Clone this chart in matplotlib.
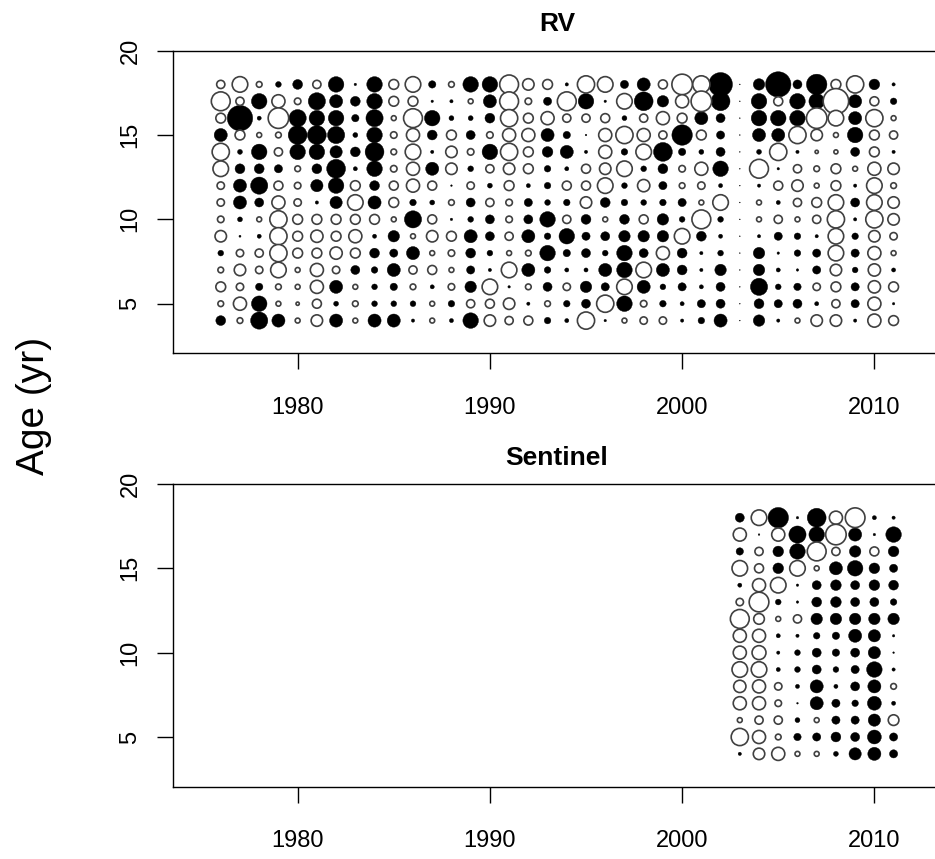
import numpy as np
import matplotlib.pyplot as plt

plt.rcParams['font.family'] = ['Liberation Sans', 'DejaVu Sans']

ages = [18, 17, 16, 15, 14, 13, 12, 11, 10, 9, 8, 7, 6, 5, 4]

# RV survey residuals, 1976-2011, one row per age (18 down to 4)
rv_years = list(range(1976, 2012))
rv_resid = [
    [-1.0, -1.9, -0.7, 0.7, 1.2, -1.0, 1.9, 0.3, 1.9, -1.2, -1.9, 0.9, -0.7, 1.9, 1.9, -2.3, -1.4, -1.2,
     0.4, -2.1, -1.9, 1.0, 1.6, -1.1, -2.5, -2.1, 2.9, 0.1, 1.4, 3.1, 1.1, 2.5, -1.2, -2.1, 1.3, 0.4],
    [-2.3, -1.0, 1.9, -1.6, -0.8, 2.1, 1.6, 1.2, 1.9, -1.2, -1.2, 0.3, 0.4, -0.6, 1.6, -2.3, -0.8, 1.0,
     -2.3, 1.9, 0.3, -1.9, 2.3, 1.4, -1.6, -2.5, 2.3, 0.1, 1.9, -1.1, 1.9, 1.9, -3.1, 1.6, -1.1, 0.8],
    [-1.2, 3.1, 0.5, -2.5, 2.1, 1.9, 1.9, 0.9, 2.1, -0.6, -2.3, 1.9, 0.6, 0.6, 1.2, -2.1, -1.2, -1.6,
     -1.0, -1.0, -1.1, 0.6, -1.0, -1.6, -1.2, 1.6, 1.1, 0.1, 1.9, 1.9, 1.9, -2.5, -1.9, 1.6, -2.1, -0.6],
    [1.6, -1.2, -0.6, -0.7, 2.3, 2.3, 2.1, 0.6, 1.9, -0.8, -1.6, 1.2, -1.2, 1.1, -0.8, -1.6, -1.6, 1.6,
     0.9, 0.2, -1.6, -2.1, -1.6, -1.0, 2.5, -1.2, 1.0, 0.1, 1.6, 1.6, -2.1, -1.4, -0.6, 1.9, -1.2, -1.0],
    [-2.1, 0.6, 1.9, -1.0, 1.9, 1.9, 1.5, 1.2, 2.3, -0.7, -1.9, 0.4, -1.4, -0.8, 1.9, -2.1, -1.2, 1.3,
     1.6, 0.4, -1.6, 0.8, -1.9, 2.3, 0.9, 0.6, 1.1, 0.1, 0.6, -2.1, 0.4, -0.4, -0.5, 1.1, -1.2, 0.4],
    [-1.9, 1.2, 1.2, 1.0, -0.7, 1.2, 2.3, 0.5, 1.9, -0.8, -1.6, 1.6, -1.4, 0.7, -1.0, -1.4, -1.2, 0.8,
     0.5, -1.1, -1.4, -1.9, 0.7, 1.2, -0.8, -1.6, 1.9, 0.1, -2.3, 0.3, -1.0, -0.7, -1.2, -0.6, -1.6, -1.4],
    [-0.9, 1.6, 2.1, -1.1, -0.8, 1.5, 1.9, -1.2, 1.2, -1.1, -1.6, -1.1, 0.2, -0.9, 0.6, -1.2, 0.5, 0.8,
     -1.1, -1.1, -1.9, 0.7, -1.5, 1.0, -0.7, -0.9, 0.5, 0.1, 0.4, -1.1, -1.4, -0.6, -1.2, 0.4, -1.9, -0.7],
    [-0.9, 1.6, 1.1, -1.6, -0.9, 0.4, 1.5, -1.9, 1.6, -1.2, 0.8, 0.6, -0.7, 1.1, -1.0, -0.8, 1.0, 0.7,
     0.8, -1.4, 1.2, 0.8, 0.7, 0.8, 1.0, -0.6, -1.9, 0.1, -0.6, 0.5, -1.0, -1.2, -1.9, 1.1, -1.9, -1.4],
    [-0.8, 0.6, -0.6, -2.1, -1.2, -1.2, -1.2, -1.2, -1.2, -0.6, 2.1, -1.1, 0.3, 0.7, 1.1, -0.8, 1.1, 1.9,
     -1.0, 1.2, -0.6, 1.2, -1.1, 1.4, 0.7, -2.3, 0.7, 0.1, -0.6, -1.0, -0.6, -1.0, -2.1, 0.4, -2.1, -1.4],
    [-1.4, 0.25, 0.5, -2.1, -1.2, -1.5, -1.2, -1.6, 0.5, 1.4, -0.6, -1.4, -1.2, 1.6, 1.1, -1.0, 1.6, 0.8,
     1.9, 1.0, 1.1, 1.4, 1.4, 1.4, -1.9, 1.2, 0.5, 0.1, 0.4, 1.0, 0.8, 0.4, -1.9, 0.8, -1.4, -0.9],
    [0.7, -0.9, -1.0, -2.1, -1.2, -1.2, -1.5, -1.2, 1.2, 1.0, 1.6, -0.6, -0.8, 1.2, 0.7, -0.6, -0.7, 1.9,
     0.9, 1.1, 0.7, 1.9, 1.1, -1.6, 1.2, 0.4, 0.7, 0.1, 1.4, 0.3, 0.8, 1.0, -1.9, 1.0, -1.6, -0.6],
    [-0.7, -1.4, -0.9, -1.9, -0.6, -1.6, -0.9, 1.1, 0.8, 1.6, -1.0, -1.1, -0.6, 1.0, 0.4, -1.9, 1.6, 0.8,
     0.5, 0.5, 1.6, 1.9, -1.9, 1.6, 1.2, 0.4, 1.4, 0.1, 1.4, 0.5, 0.3, 1.0, -1.4, 0.7, -1.5, 0.5],
    [-1.2, -0.9, 0.9, -0.7, -0.6, -1.6, 1.6, -0.6, 0.7, 0.9, -0.7, 0.5, -0.8, 1.4, -1.9, 0.3, -0.7, 1.1,
     -0.9, 1.4, 1.0, -1.9, 1.6, 0.7, 1.0, 0.5, 1.1, 0.1, 2.1, 0.7, 0.9, -0.9, -1.2, 1.0, -1.5, -1.2],
    [-0.7, -1.6, 1.9, -0.6, -0.4, -1.1, 0.6, -0.7, 0.7, 0.7, 0.7, -0.6, 0.8, -1.0, -1.1, -1.4, 0.4, -0.7,
     0.8, 1.1, -2.1, 1.9, -0.8, 0.8, 0.5, 1.0, 1.1, 0.1, 1.2, 1.0, 1.1, 0.5, -1.0, 1.0, -1.6, 0.3],
    [1.2, -0.7, 2.1, 1.6, -0.6, -1.4, 1.6, -0.6, 1.6, 1.6, 0.4, -0.6, 0.5, 1.9, -1.4, -1.0, -1.1, 0.8,
     0.5, -2.1, 0.3, -0.6, -0.9, -0.9, 0.4, 0.8, 1.6, 0.1, 1.4, 0.4, -0.6, -1.4, -1.4, 0.4, -1.6, -1.2],
]

# Sentinel survey residuals, 2003-2011
sen_years = list(range(2003, 2012))
sen_resid = [
    [1.1, -1.9, 2.5, 0.3, 2.3, -1.6, -2.4, 0.5, 0.4],
    [-1.6, 0.2, -1.6, 2.1, 1.9, -2.5, 1.6, 0.3, 1.9],
    [0.9, -1.0, 1.3, 1.9, -2.3, -1.0, 1.4, -1.1, 1.3],
    [-1.9, -1.1, 1.3, -1.9, -0.6, 1.6, 1.9, 1.3, 1.0],
    [0.5, -1.6, -1.9, 0.3, 1.1, 1.3, 1.1, 1.3, 1.2],
    [-0.9, -2.4, 0.7, 0.3, 1.2, 1.3, 1.1, 1.1, 0.8],
    [-2.3, -1.3, -0.6, -1.0, 1.4, 1.4, 1.4, 1.4, 1.4],
    [-1.6, -1.6, 0.5, 0.4, 0.8, 0.9, 1.6, 1.5, 0.3],
    [-1.6, -1.7, 0.4, 0.7, 1.1, 0.9, 1.1, 1.5, 0.2],
    [-1.9, -1.9, 0.5, 0.7, 1.1, 0.7, 1.0, 1.9, 0.4],
    [-1.5, -1.6, -0.9, 0.5, 1.6, 0.5, 1.1, 1.6, -0.7],
    [-1.6, -1.6, -0.8, 0.2, 1.6, 1.0, 0.8, 1.7, 0.5],
    [-0.6, -1.0, -1.0, 0.6, -0.6, 1.0, 1.0, 1.5, -1.3],
    [-2.1, -1.6, -0.7, 0.9, 1.0, 1.2, 1.1, 1.7, 1.0],
    [0.4, -1.4, -1.6, -0.6, -0.6, 0.6, 1.5, 1.6, 1.0],
]


def burbujas(ax, years, resid, titulo):
    yy, aa = np.meshgrid(years, ages)
    r = np.array(resid)
    s = (5.9 * np.abs(r)) ** 2
    pos = r > 0
    ax.scatter(yy[pos], aa[pos], s=s[pos], c='black', edgecolors='black', linewidths=0.3)
    ax.scatter(yy[~pos], aa[~pos], s=s[~pos], facecolors='white', edgecolors='#404040', linewidths=1.2)
    ax.set_xlim(1973.5, 2013.48)
    ax.set_ylim(2.06, 20)
    ax.set_xticks([1980, 1990, 2000, 2010])
    ax.set_yticks([5, 10, 15, 20])
    ax.tick_params(axis='both', length=11.5, width=1.0, labelsize=17, direction='out')
    ax.tick_params(axis='x', pad=20)
    ax.tick_params(axis='y', pad=11)
    for lab in ax.get_yticklabels():
        lab.set_rotation(90)
        lab.set_va('center')
    for sp in ax.spines.values():
        sp.set_linewidth(1.0)
    ax.set_title(titulo, fontsize=19, fontweight='bold', pad=14)


fig = plt.figure(figsize=(9.35, 8.59), dpi=100)
ax1 = fig.add_axes([0.1847, 0.5887, 0.822, 0.3523])
ax2 = fig.add_axes([0.1847, 0.0843, 0.822, 0.3523])

burbujas(ax1, rv_years, rv_resid, 'RV')
burbujas(ax2, sen_years, sen_resid, 'Sentinel')

fig.text(0.036, 0.528, 'Age (yr)', rotation=90, fontsize=28, va='center', ha='center')

fig.savefig('out.png', dpi=100)
